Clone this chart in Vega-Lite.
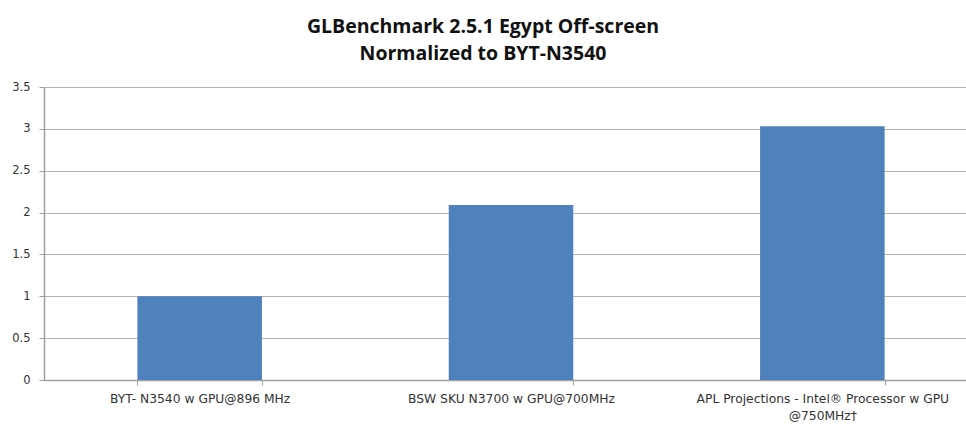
{
  "$schema": "https://vega.github.io/schema/vega-lite/v6.json",
  "width": 922,
  "height": 293,
  "autosize": {"type": "none"},
  "padding": {"left": 44, "top": 87, "right": 0, "bottom": 44},
  "background": "white",
  "title": {
    "text": ["GLBenchmark  2.5.1 Egypt  Off-screen", "Normalized  to BYT-N3540"],
    "font": "Open Sans",
    "fontSize": 19.5,
    "fontWeight": "bold",
    "color": "#111111",
    "lineHeight": 27,
    "anchor": "middle",
    "dx": -22,
    "offset": 17
  },
  "data": {
    "values": [
      {"key": "a", "value": 1.0},
      {"key": "b", "value": 2.09},
      {"key": "c", "value": 3.03}
    ]
  },
  "mark": {"type": "bar", "color": "#4f81bd"},
  "encoding": {
    "x": {
      "field": "key",
      "type": "nominal",
      "sort": null,
      "scale": {"range": [0, 934], "paddingInner": 0.6, "paddingOuter": 0.3},
      "axis": {
        "title": null,
        "labelExpr": "datum.value == 'a' ? 'BYT- N3540 w GPU@896 MHz' : datum.value == 'b' ? 'BSW  SKU N3700 w GPU@700MHz' : datum.value == 'c' ? ['APL Projections - Intel® Processor w GPU', '@750MHz†'] : ''",
        "labelAngle": 0,
        "labelFont": "DejaVu Sans",
        "labelFontSize": 12.3,
        "labelLimit": 400,
        "labelColor": "#333333",
        "labelPadding": 7,
        "labelLineHeight": 17,
        "tickBand": "extent",
        "tickSize": 5,
        "tickColor": "#a0a0a0",
        "domainColor": "#a0a0a0",
        "domainWidth": 1.5
      }
    },
    "y": {
      "field": "value",
      "type": "quantitative",
      "scale": {"domain": [0, 3.5], "nice": false},
      "axis": {
        "title": null,
        "values": [0, 0.5, 1, 1.5, 2, 2.5, 3, 3.5],
        "format": "~g",
        "labelFont": "DejaVu Sans",
        "labelFontSize": 11.5,
        "labelColor": "#333333",
        "labelPadding": 9,
        "tickSize": 5,
        "tickColor": "#a0a0a0",
        "domainColor": "#a0a0a0",
        "domainWidth": 1.5,
        "gridColor": "#b4b4b4",
        "gridWidth": 1.2
      }
    }
  },
  "config": {"view": {"stroke": null}}
}
